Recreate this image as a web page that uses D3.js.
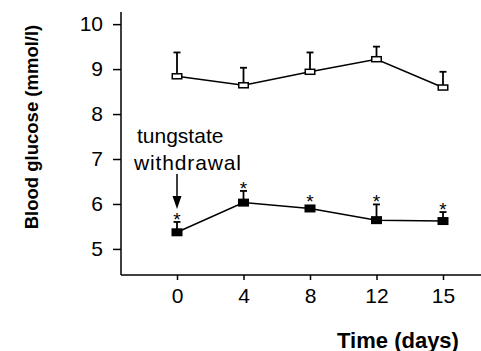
<!DOCTYPE html>
<html>
<head>
<meta charset="utf-8">
<script src="https://cdn.jsdelivr.net/npm/d3@7"></script>
<style>
  body { margin: 0; background: #fff; }
  text { font-family: "Liberation Sans", Arial, sans-serif; fill: #000; }
</style>
</head>
<body>
<div id="chart"></div>
<script>
// Data
var days = ['0', '4', '8', '12', '15'];
var controlMean = [8.84, 8.64, 8.94, 9.22, 8.59];
var controlTop = [9.37, 9.03, 9.37, 9.50, 8.94];
var treatedMean = [5.37, 6.03, 5.90, 5.64, 5.62];
var treatedTop = [5.60, 6.29, 5.92, 5.99, 5.82];
var yTicks = [5, 6, 7, 8, 9, 10];

var svgWidth = 481;
var svgHeight = 351;

var svg = d3.select('#chart')
    .append('svg')
    .attr('width', svgWidth)
    .attr('height', svgHeight);

// Scales
var xScale = d3.scalePoint()
    .domain(days)
    .range([177, 443]);

var yScale = d3.scaleLinear()
    .domain([4.42, 10.27])
    .range([275, 12]);

// Axes
var xAxis = d3.axisBottom(xScale).tickSize(5).tickPadding(8);
var yAxis = d3.axisLeft(yScale).tickValues(yTicks).tickSize(8).tickPadding(10)
    .tickFormat(d3.format('d'));

var xG = svg.append('g')
    .attr('transform', 'translate(0, 275)')
    .call(xAxis);
xG.select('.domain').remove();
xG.append('line')
    .attr('x1', 121).attr('x2', 481)
    .attr('stroke', '#000').attr('stroke-width', 1.5);

var yG = svg.append('g')
    .attr('transform', 'translate(121, 0)')
    .call(yAxis);
yG.select('.domain').remove();
yG.append('line')
    .attr('y1', 12).attr('y2', 275)
    .attr('stroke', '#000').attr('stroke-width', 1.5);

svg.selectAll('.tick line').attr('stroke', '#000').attr('stroke-width', 1.5);
svg.selectAll('.tick text').style('font-size', '21px').attr('fill', '#000');

// Series rows
var control = days.map(function (d, i) { return { day: d, mean: controlMean[i], top: controlTop[i] }; });
var treated = days.map(function (d, i) { return { day: d, mean: treatedMean[i], top: treatedTop[i] }; });

var line = d3.line()
    .x(function (d) { return xScale(d.day); })
    .y(function (d) { return yScale(d.mean); });

function drawSeries(data, filled, w, h) {
    var g = svg.append('g');
    g.append('path')
        .datum(data)
        .attr('d', line)
        .attr('fill', 'none')
        .attr('stroke', '#000')
        .attr('stroke-width', 1.5);

    // error bars (upper only)
    g.selectAll('.err')
        .data(data)
        .enter()
        .append('line')
        .attr('x1', function (d) { return xScale(d.day); })
        .attr('x2', function (d) { return xScale(d.day); })
        .attr('y1', function (d) { return yScale(d.mean); })
        .attr('y2', function (d) { return yScale(d.top); })
        .attr('stroke', '#000')
        .attr('stroke-width', 1.8);

    g.selectAll('.cap')
        .data(data)
        .enter()
        .append('line')
        .attr('x1', function (d) { return xScale(d.day) - 3.5; })
        .attr('x2', function (d) { return xScale(d.day) + 3.5; })
        .attr('y1', function (d) { return yScale(d.top); })
        .attr('y2', function (d) { return yScale(d.top); })
        .attr('stroke', '#000')
        .attr('stroke-width', 1.8);

    g.selectAll('rect')
        .data(data)
        .enter()
        .append('rect')
        .attr('x', function (d) { return xScale(d.day) - w / 2; })
        .attr('y', function (d) { return yScale(d.mean) - h / 2; })
        .attr('width', w)
        .attr('height', h)
        .attr('fill', filled ? '#000' : '#fff')
        .attr('stroke', '#000')
        .attr('stroke-width', 1.5);
    return g;
}

drawSeries(control, false, 9.5, 5);
var tg = drawSeries(treated, true, 9.5, 6.5);

// Significance asterisks
tg.selectAll('.star')
    .data(treated)
    .enter()
    .append('text')
    .attr('x', function (d) { return xScale(d.day); })
    .attr('y', function (d) { return Math.min(yScale(d.top), yScale(d.mean) - 4) + 4; })
    .attr('text-anchor', 'middle')
    .style('font-size', '19px')
    .text('*');

// Annotation
svg.append('text')
    .attr('x', 137)
    .attr('y', 143)
    .style('font-size', '21px')
    .text('tungstate');
svg.append('text')
    .attr('x', 134)
    .attr('y', 170)
    .attr('textLength', 107)
    .style('font-size', '21px')
    .text('withdrawal');

svg.append('line')
    .attr('x1', xScale('0')).attr('x2', xScale('0'))
    .attr('y1', 174).attr('y2', 198)
    .attr('stroke', '#000').attr('stroke-width', 1.5);
svg.append('path')
    .attr('d', 'M' + (xScale('0') - 4.5) + ',196 L' + (xScale('0') + 4.5) + ',196 L' + xScale('0') + ',209 Z')
    .attr('fill', '#000');

// Axis titles
svg.append('text')
    .attr('x', 398)
    .attr('y', 348)
    .attr('text-anchor', 'middle')
    .style('font-size', '22px')
    .style('font-weight', 'bold')
    .text('Time (days)');

svg.append('text')
    .attr('transform', 'translate(38, 127) rotate(-90)')
    .attr('text-anchor', 'middle')
    .style('font-size', '18.5px')
    .style('font-weight', 'bold')
    .text('Blood glucose (mmol/l)');
</script>
</body>
</html>
